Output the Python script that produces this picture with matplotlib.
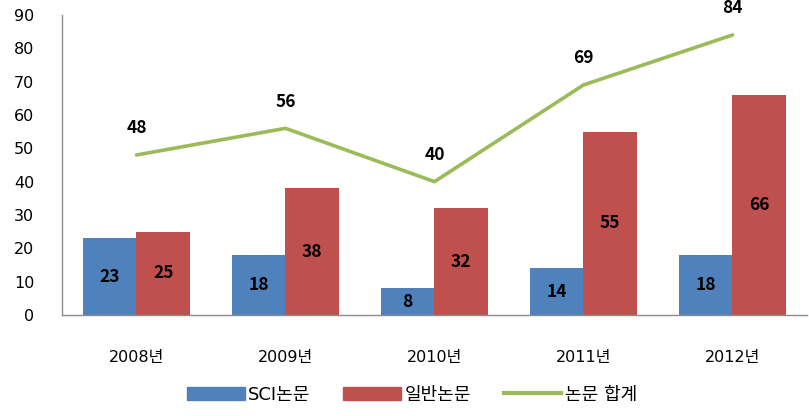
import matplotlib
matplotlib.use("Agg")
import matplotlib.pyplot as plt
from matplotlib.patches import Patch
from matplotlib.lines import Line2D
import numpy as np

plt.rcParams['font.family'] = ['DejaVu Sans', 'Noto Sans CJK KR']

years = ["2008년", "2009년", "2010년", "2011년", "2012년"]
sci = [23, 18, 8, 14, 18]
general = [25, 38, 32, 55, 66]
total = [48, 56, 40, 69, 84]

BLUE = "#4f81bd"
RED = "#c0504d"
GREEN = "#9bbb59"
LABEL_FONT = ['Noto Sans CJK KR', 'DejaVu Sans']

fig = plt.figure(figsize=(8.09, 4.16), dpi=100)
ax = fig.add_axes([0.0766, 0.2428, 0.9209, 0.7212])

x = np.arange(len(years))
w = 0.36
ax.bar(x - w / 2, sci, w, color=BLUE)
ax.bar(x + w / 2, general, w, color=RED)
ax.plot(x, total, color=GREEN, lw=2.6, solid_capstyle="round")

for xi, v in zip(x, sci):
    ax.text(xi - w / 2, v / 2, str(v), ha="center", va="center",
            fontsize=12.5, fontweight="bold", family=LABEL_FONT)
for xi, v in zip(x, general):
    ax.text(xi + w / 2, v / 2, str(v), ha="center", va="center",
            fontsize=12.5, fontweight="bold", family=LABEL_FONT)
for xi, v in zip(x, total):
    ax.text(xi, v + 8, str(v), ha="center", va="center",
            fontsize=12.5, fontweight="bold", family=LABEL_FONT)

ax.set_xlim(-0.5, 4.5)
ax.set_ylim(0, 90)
ax.set_yticks(range(0, 91, 10))
ax.set_xticks(x)
ax.set_xticklabels(years)
ax.tick_params(axis="both", length=0, labelsize=11.5)
ax.tick_params(axis="x", pad=25)
ax.tick_params(axis="y", pad=20)
for s in ("top", "right"):
    ax.spines[s].set_visible(False)
for s in ("left", "bottom"):
    ax.spines[s].set_color("#8c8c8c")
    ax.spines[s].set_linewidth(1)

handles = [Patch(color=BLUE), Patch(color=RED),
           Line2D([], [], color=GREEN, lw=3)]
labels = ["SCI논문", "일반논문", "논문 합계"]
ax.legend(handles, labels, loc="center", bbox_to_anchor=(0.47, -0.265),
          ncol=3, frameon=False, fontsize=13, handlelength=3.2,
          handleheight=0.7, columnspacing=1.8, handletextpad=0.2)

fig.savefig("out.png", dpi=100)
